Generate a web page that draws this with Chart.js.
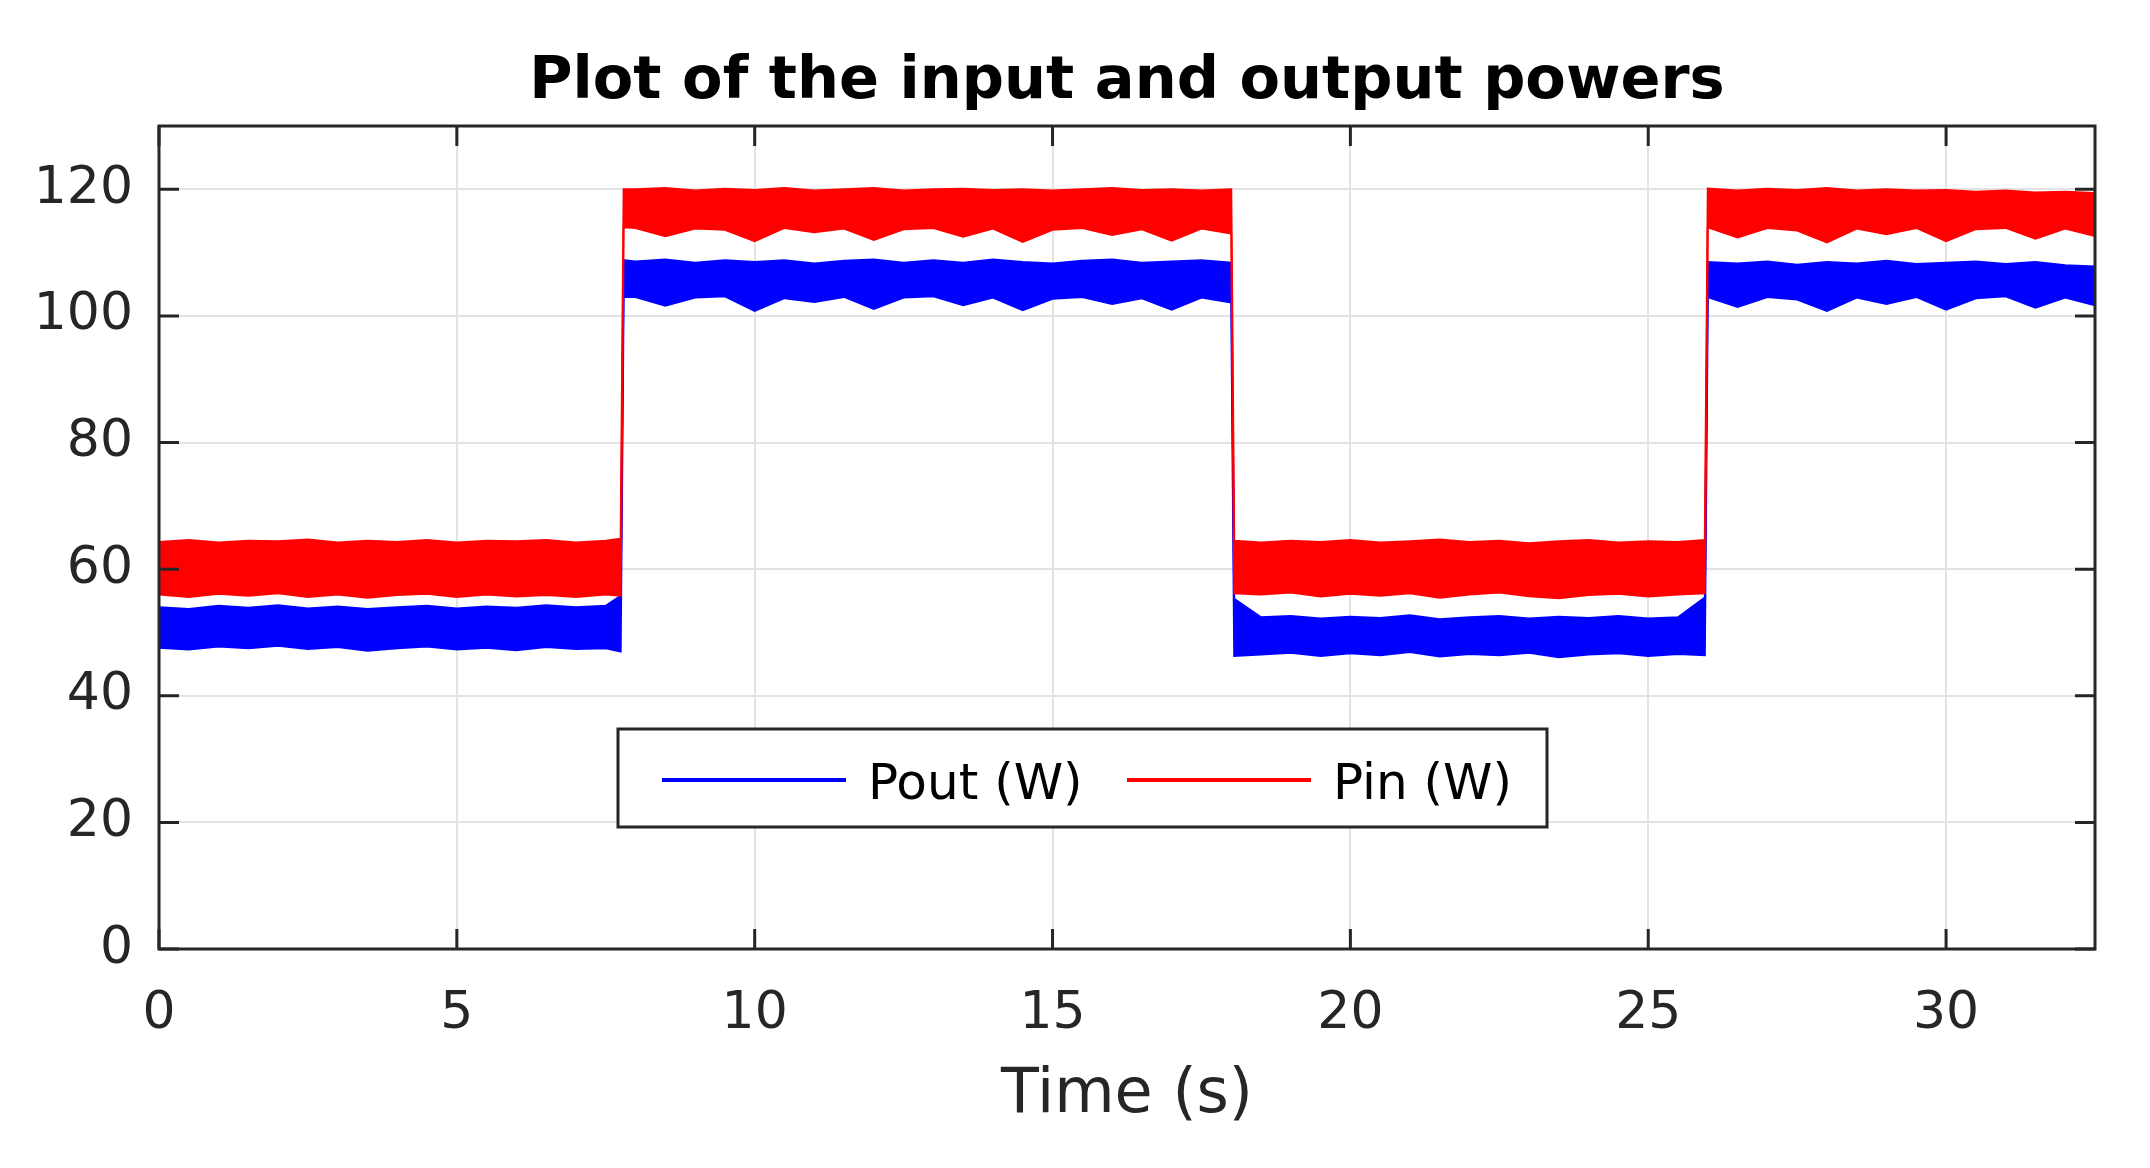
<!DOCTYPE html>
<html>
<head>
<meta charset="utf-8">
<script src="https://cdn.jsdelivr.net/npm/chart.js@4.4.1/dist/chart.umd.min.js"></script>
<style>
  html, body { margin: 0; padding: 0; background: #fff; }
  #wrap { width: 2150px; height: 1168px; position: relative; }
</style>
</head>
<body>
<div id="wrap"><canvas id="powerChart"></canvas></div>
<script>
// time stamps (s) of the envelope points
const timeS = [0, 0.5, 1, 1.5, 2, 2.5, 3, 3.5, 4, 4.5, 5, 5.5, 6, 6.5, 7, 7.5, 7.75,
  7.8, 8, 8.5, 9, 9.5, 10, 10.5, 11, 11.5, 12, 12.5, 13, 13.5, 14, 14.5, 15, 15.5, 16, 16.5, 17, 17.5, 18,
  18.05, 18.5, 19, 19.5, 20, 20.5, 21, 21.5, 22, 22.5, 23, 23.5, 24, 24.5, 25, 25.5, 25.95,
  26, 26.5, 27, 27.5, 28, 28.5, 29, 29.5, 30, 30.5, 31, 31.5, 32, 32.5];

// Pin (W): upper and lower edge of the noisy band
const pinUpper = [64.3, 64.6, 64.2, 64.5, 64.4, 64.7, 64.2, 64.5, 64.3, 64.6, 64.2, 64.5, 64.4, 64.6, 64.2, 64.5, 64.8,
  120.0, 120.0, 120.2, 119.8, 120.1, 119.9, 120.2, 119.8, 120.0, 120.2, 119.8, 120.0, 120.1, 119.9, 120.0, 119.8, 120.0, 120.2, 119.9, 120.0, 119.8, 120.0,
  64.5, 64.2, 64.5, 64.3, 64.6, 64.2, 64.4, 64.7, 64.3, 64.5, 64.1, 64.4, 64.6, 64.2, 64.4, 64.3, 64.6,
  120.1, 119.8, 120.1, 119.9, 120.2, 119.8, 120.0, 119.8, 119.9, 119.6, 119.8, 119.5, 119.6, 119.4];
const pinLower = [56.0, 55.6, 56.1, 55.8, 56.2, 55.6, 56.0, 55.5, 55.9, 56.1, 55.6, 56.0, 55.7, 55.9, 55.6, 56.0, 55.8,
  114.0, 113.9, 112.6, 113.8, 113.6, 111.8, 113.9, 113.2, 113.8, 112.0, 113.7, 113.9, 112.5, 113.8, 111.7, 113.6, 113.9, 112.8, 113.7, 111.9, 113.8, 113.0,
  56.2, 56.0, 56.3, 55.7, 56.1, 55.8, 56.2, 55.5, 56.0, 56.3, 55.7, 55.4, 55.9, 56.1, 55.7, 56.0, 56.2,
  114.0, 112.4, 113.9, 113.5, 111.6, 113.8, 112.9, 113.9, 111.8, 113.7, 113.9, 112.2, 113.8, 112.6];

// Pout (W): upper and lower edge of the noisy band
const poutUpper = [54.0, 53.7, 54.2, 53.9, 54.3, 53.8, 54.1, 53.7, 54.0, 54.2, 53.8, 54.1, 53.9, 54.3, 54.0, 54.2, 55.8,
  108.8, 108.6, 108.9, 108.4, 108.8, 108.5, 108.8, 108.3, 108.7, 108.9, 108.4, 108.8, 108.4, 108.9, 108.5, 108.3, 108.7, 108.9, 108.4, 108.6, 108.8, 108.4,
  55.3, 52.4, 52.6, 52.2, 52.5, 52.3, 52.7, 52.1, 52.4, 52.6, 52.2, 52.5, 52.3, 52.6, 52.2, 52.4, 55.5,
  108.5, 108.3, 108.6, 108.1, 108.5, 108.3, 108.7, 108.2, 108.4, 108.6, 108.2, 108.5, 108.0, 107.8];
const poutLower = [47.6, 47.3, 47.8, 47.5, 47.9, 47.4, 47.7, 47.1, 47.5, 47.8, 47.3, 47.6, 47.2, 47.7, 47.4, 47.5, 47.0,
  103.0, 103.0, 101.6, 102.9, 103.1, 100.8, 102.8, 102.2, 103.0, 101.1, 102.9, 103.1, 101.7, 102.9, 100.9, 102.7, 103.0, 101.9, 102.8, 101.0, 102.9, 102.1,
  46.3, 46.5, 46.8, 46.3, 46.7, 46.4, 46.9, 46.2, 46.6, 46.4, 46.8, 46.1, 46.5, 46.7, 46.3, 46.6, 46.4,
  103.0, 101.4, 103.0, 102.6, 100.8, 102.9, 101.9, 103.0, 101.0, 102.8, 103.1, 101.3, 102.9, 101.7];

const xTicks = [0, 5, 10, 15, 20, 25, 30];
const yTicks = [0, 20, 40, 60, 80, 100, 120];
const seriesNames = ['Pout (W)', 'Pin (W)'];
const chartTitle = 'Plot of the input and output powers';

const RED = '#ff0000';
const BLUE = '#0000ff';
const AXIS = '#262626';

function pts(vals) {
  return timeS.map((t, i) => ({ x: t, y: vals[i] }));
}

function band(vals, color, fill) {
  return {
    data: pts(vals),
    borderColor: color,
    backgroundColor: color,
    borderWidth: 2,
    pointRadius: 0,
    tension: 0,
    fill: fill
  };
}

// MATLAB style box: frame on four sides with inward ticks, title over the axes, and the legend
const boxPlugin = {
  id: 'matlabBox',
  afterDatasetsDraw(chart) {
    const { ctx, chartArea: a, scales } = chart;
    const tl = 20;
    ctx.save();
    ctx.strokeStyle = AXIS;
    ctx.lineWidth = 3;
    ctx.beginPath();
    xTicks.forEach(v => {
      const px = scales.x.getPixelForValue(v);
      ctx.moveTo(px, a.bottom); ctx.lineTo(px, a.bottom - tl);
      ctx.moveTo(px, a.top); ctx.lineTo(px, a.top + tl);
    });
    yTicks.forEach(v => {
      const py = scales.y.getPixelForValue(v);
      ctx.moveTo(a.left, py); ctx.lineTo(a.left + tl, py);
      ctx.moveTo(a.right, py); ctx.lineTo(a.right - tl, py);
    });
    ctx.stroke();
    ctx.strokeRect(a.left, a.top, a.right - a.left, a.bottom - a.top);

    // title, centred over the axes
    ctx.fillStyle = '#000';
    ctx.font = 'bold 59px "DejaVu Sans"';
    ctx.textAlign = 'center';
    ctx.textBaseline = 'middle';
    ctx.fillText(chartTitle, (a.left + a.right) / 2, 83);

    // legend
    const lx = a.left + 459, ly = a.top + 603, lw = 929, lh = 98;
    ctx.fillStyle = '#fff';
    ctx.fillRect(lx, ly, lw, lh);
    ctx.strokeRect(lx, ly, lw, lh);
    const cy = ly + lh / 2 + 2;
    const entries = [
      { name: seriesNames[0], color: BLUE, x0: lx + 44 },
      { name: seriesNames[1], color: RED, x0: lx + 509 }
    ];
    ctx.font = '50px "DejaVu Sans"';
    ctx.textAlign = 'left';
    entries.forEach(e => {
      ctx.strokeStyle = e.color;
      ctx.lineWidth = 4;
      ctx.beginPath();
      ctx.moveTo(e.x0, cy); ctx.lineTo(e.x0 + 184, cy);
      ctx.stroke();
      ctx.fillStyle = '#000';
      ctx.fillText(e.name, e.x0 + 206, cy + 6);
    });
    ctx.restore();
  }
};

new Chart(document.getElementById('powerChart'), {
  type: 'line',
  data: {
    datasets: [
      band(pinUpper, RED, '+1'),
      band(pinLower, RED, false),
      band(poutUpper, BLUE, '+1'),
      band(poutLower, BLUE, false)
    ]
  },
  options: {
    responsive: true,
    maintainAspectRatio: false,
    animation: false,
    layout: { padding: { left: 0, right: 55, top: 126, bottom: 0 } },
    plugins: {
      legend: { display: false },
      tooltip: { enabled: false },
      title: { display: false }
    },
    scales: {
      x: {
        type: 'linear',
        min: 0,
        max: 32.5,
        afterBuildTicks: s => { s.ticks = xTicks.map(v => ({ value: v })); },
        afterFit: s => { s.height = 219; },
        ticks: { color: AXIS, font: { family: 'DejaVu Sans', size: 52 }, padding: 34, maxRotation: 0 },
        grid: { color: '#e3e3e3', lineWidth: 2, drawTicks: false },
        border: { display: false },
        title: {
          display: true,
          text: 'Time (s)',
          color: AXIS,
          font: { family: 'DejaVu Sans', size: 62 },
          padding: { top: 0, bottom: 35 }
        }
      },
      y: {
        min: 0,
        max: 130,
        afterBuildTicks: s => { s.ticks = yTicks.map(v => ({ value: v })); },
        afterFit: s => { s.width = 159; },
        ticks: { color: AXIS, font: { family: 'DejaVu Sans', size: 52 }, padding: 26 },
        grid: { color: '#e3e3e3', lineWidth: 2, drawTicks: false },
        border: { display: false }
      }
    }
  },
  plugins: [boxPlugin]
});
</script>
</body>
</html>
